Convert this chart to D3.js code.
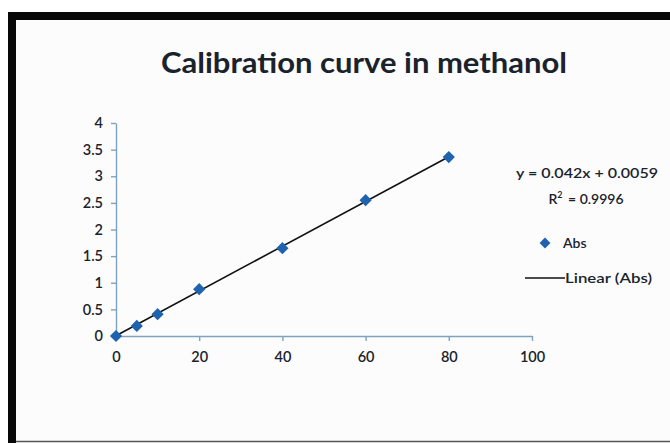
<!DOCTYPE html>
<meta charset="utf-8">
<style>
body { margin: 0; background: #fff; }
text { font-family: Lato, "Open Sans", sans-serif; fill: #1a232c; }
.axis path, .axis line { stroke: #7fa3bf; stroke-width: 1.4px; }
</style>
<body>
<script src="https://cdn.jsdelivr.net/npm/d3@7"></script>
<script>
var width = 670, height = 443;

// data
var conc = [0, 5, 10, 20, 40, 60, 80];
var abs = [0, 0.19, 0.41, 0.88, 1.65, 2.55, 3.36];
var slope = 0.042, intercept = 0.0059;
var xTicks = [0, 20, 40, 60, 80, 100];
var yTicks = [0, 0.5, 1, 1.5, 2, 2.5, 3, 3.5, 4];
var title = "Calibration curve in methanol";

var svg = d3.select("body").append("svg")
    .attr("width", width)
    .attr("height", height);

// frame: thick black top and left, thin grey bottom
svg.append("rect").attr("x", 0).attr("y", 0).attr("width", width).attr("height", height).attr("fill", "#fff");
svg.append("rect").attr("x", 16).attr("y", 20).attr("width", 654).attr("height", 421).attr("fill", "#fcfcfc");
svg.append("rect").attr("x", 8).attr("y", 12).attr("width", 662).attr("height", 8).attr("fill", "#080808");
svg.append("rect").attr("x", 8).attr("y", 12).attr("width", 8).attr("height", 431).attr("fill", "#080808");
svg.append("line").attr("x1", 16).attr("x2", 670).attr("y1", 441.5).attr("y2", 441.5)
    .attr("stroke", "#555").attr("stroke-width", 1.5);

var x = d3.scaleLinear().domain([0, 100]).range([116, 532]);
var y = d3.scaleLinear().domain([0, 4]).range([336, 123]);

svg.append("text")
    .attr("x", 364).attr("y", 73)
    .attr("text-anchor", "middle")
    .attr("font-size", 28).attr("font-weight", "bold")
    .attr("textLength", 406).attr("lengthAdjust", "spacingAndGlyphs")
    .text(title);

var gx = svg.append("g").attr("class", "axis")
    .attr("transform", "translate(0," + y(0) + ")")
    .call(d3.axisBottom(x).tickValues(xTicks).tickSize(5).tickPadding(11).tickSizeOuter(0));
var gy = svg.append("g").attr("class", "axis")
    .attr("transform", "translate(" + x(0) + ",0)")
    .call(d3.axisLeft(y).tickValues(yTicks).tickFormat(d3.format("")).tickSize(5).tickPadding(8).tickSizeOuter(0));
svg.selectAll(".axis text").attr("font-size", 14.5).attr("font-family", "Lato, sans-serif")
    .attr("font-weight", 600).attr("fill", "#1a232c");

// trend line
svg.append("line")
    .attr("x1", x(0)).attr("y1", y(intercept))
    .attr("x2", x(80)).attr("y2", y(slope * 80 + intercept))
    .attr("stroke", "#111").attr("stroke-width", 1.6);

var diamond = d3.symbol().type(d3.symbolDiamond2).size(95);
svg.append("g").selectAll("path")
    .data(conc)
    .enter().append("path")
    .attr("transform", function(d, i) { return "translate(" + x(d) + "," + y(abs[i]) + ")"; })
    .attr("d", diamond)
    .attr("fill", "#1f62ad");

// legend
svg.append("text").attr("x", 587).attr("y", 178).attr("text-anchor", "middle").attr("font-size", 14)
    .attr("font-weight", 600).attr("textLength", 142).attr("lengthAdjust", "spacingAndGlyphs")
    .text("y = " + slope + "x + " + intercept);
var r2 = svg.append("text").attr("x", 586).attr("y", 204).attr("text-anchor", "middle")
    .attr("font-size", 14).attr("font-weight", 600);
r2.append("tspan").text("R");
r2.append("tspan").attr("font-size", 9).attr("dy", -6).text("2");
r2.append("tspan").attr("dy", 6).attr("dx", 2).text(" = 0.9996");

svg.append("path").attr("transform", "translate(545,243)")
    .attr("d", d3.symbol().type(d3.symbolDiamond2).size(75)).attr("fill", "#1f62ad");
svg.append("text").attr("x", 563).attr("y", 248).attr("font-size", 14).attr("font-weight", 600).text("Abs");
svg.append("line").attr("x1", 525).attr("x2", 565).attr("y1", 278).attr("y2", 278)
    .attr("stroke", "#111").attr("stroke-width", 1.5);
svg.append("text").attr("x", 565).attr("y", 283).attr("font-size", 14).attr("font-weight", 600)
    .attr("textLength", 87).attr("lengthAdjust", "spacingAndGlyphs").text("Linear (Abs)");
</script>
</body>
